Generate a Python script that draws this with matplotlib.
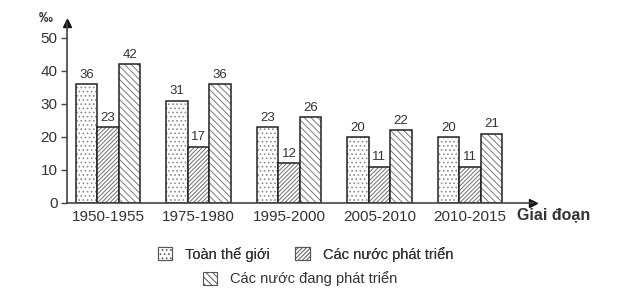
import matplotlib
matplotlib.use("Agg")
import matplotlib.pyplot as plt
import numpy as np
from matplotlib.patches import Patch

plt.rcParams['font.family'] = ['Liberation Sans', 'DejaVu Sans']
plt.rcParams['hatch.linewidth'] = 0.7

# Du lieu
giai_doan = ["1950-1955", "1975-1980", "1995-2000", "2005-2010", "2010-2015"]
toan_the_gioi = [36, 31, 23, 20, 20]
phat_trien = [23, 17, 12, 11, 11]
dang_phat_trien = [42, 36, 26, 22, 21]
ten_nhom = ["Toàn thế giới", "Các nước phát triển", "Các nước đang phát triển"]

TXT = "#333333"
x = np.arange(len(giai_doan))
w = 0.238

fig = plt.figure(figsize=(6.4, 2.94), dpi=100)
ax = fig.add_axes([0.105, 0.31, 0.728, 0.612])

series = [toan_the_gioi, phat_trien, dang_phat_trien]
hatches = ['....', '////////', '\\\\\\\\\\']
hcolors = ['#8c8c8c', '#707070', '#7a7a7a']
for k, vals in enumerate(series):
    pos = x + (k - 1) * w
    bars = ax.bar(pos, vals, w, facecolor='white', edgecolor='#222222',
                  linewidth=1.1, hatch=hatches[k])
    for b in bars:
        b._hatch_color = matplotlib.colors.to_rgba(hcolors[k])
    for p, v in zip(pos, vals):
        ax.text(p, v + 1.0, str(v), ha='center', va='bottom', fontsize=9.5, color=TXT)

ax.set_xlim(-0.453, 4.70)
ax.set_ylim(0, 54.5)
ax.set_yticks([0, 10, 20, 30, 40, 50])
ax.set_xticks(x)
ax.set_xticklabels(giai_doan, fontsize=11, color=TXT)
ax.tick_params(axis='x', length=0, pad=5)
ax.tick_params(axis='y', length=4, width=1, color='#444444', labelsize=11,
               labelcolor=TXT, pad=3)
for s in ['top', 'right']:
    ax.spines[s].set_visible(False)
for s in ['left', 'bottom']:
    ax.spines[s].set_color('#444444')
    ax.spines[s].set_linewidth(1.2)

# mui ten truc
ax.plot(1, 0, '>', color='#111111', markersize=6, transform=ax.transAxes, clip_on=False)
ax.plot(0, 1, '^', color='#111111', markersize=6, transform=ax.transAxes, clip_on=False)

ax.text(-0.032, 1.03, "‰", transform=ax.transAxes, fontsize=10, fontweight='bold',
        color=TXT, ha='right', va='center')
fig.text(0.808, 0.268, "Giai đoạn", fontsize=11.5, fontweight='bold', color=TXT,
         ha='left', va='center')

handles = []
for k in range(3):
    h = Patch(facecolor='white', edgecolor='#555555', hatch=hatches[k], linewidth=0.8)
    handles.append(h)

leg1 = fig.legend(handles[:2], ten_nhom[:2], loc='center', bbox_to_anchor=(0.477, 0.136),
                  ncol=2, frameon=False, fontsize=10.5, handlelength=1.0, handleheight=0.9,
                  columnspacing=1.7, handletextpad=0.9, labelcolor=TXT)
leg2 = fig.legend(handles[2:], ten_nhom[2:], loc='center', bbox_to_anchor=(0.469, 0.051),
                  frameon=False, fontsize=10.5, handlelength=1.0, handleheight=0.9,
                  handletextpad=0.9, labelcolor=TXT)
fig.add_artist(leg1)

fig.savefig("out.png", dpi=100)
